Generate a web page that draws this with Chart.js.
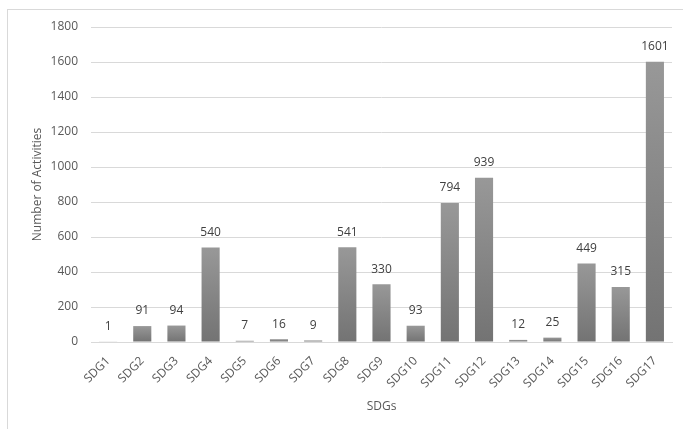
<!DOCTYPE html>
<html>
<head>
<meta charset="utf-8">
<script src="https://cdn.jsdelivr.net/npm/chart.js@4.4.1/dist/chart.umd.min.js"></script>
<style>
    html, body { margin: 0; padding: 0; background: #fff; }
    #wrap { position: relative; width: 683px; height: 429px; }
    #frame {
        position: absolute; left: 7px; top: 9px; right: -5px; bottom: -5px;
        border-left: 1px solid #d9d9d9; border-top: 1px solid #d9d9d9;
    }
    canvas { position: absolute; left: 0; top: 0; }
</style>
</head>
<body>
<div id="wrap">
    <div id="frame"></div>
    <canvas id="sdgChart" width="683" height="429"></canvas>
</div>
<script>
const categories = ['SDG1', 'SDG2', 'SDG3', 'SDG4', 'SDG5', 'SDG6', 'SDG7', 'SDG8', 'SDG9',
    'SDG10', 'SDG11', 'SDG12', 'SDG13', 'SDG14', 'SDG15', 'SDG16', 'SDG17'];
const activities = [1, 91, 94, 540, 7, 16, 9, 541, 330, 93, 794, 939, 12, 25, 449, 315, 1601];
const yTicks = [0, 200, 400, 600, 800, 1000, 1200, 1400, 1600, 1800];

const FONT = "'Open Sans', sans-serif";
const TEXT = '#595959';

// each bar gets its own light-to-dark fill, like the Excel gradient
function barFill(context) {
    const chart = context.chart;
    if (!chart.chartArea || context.parsed === undefined) return '#888888';
    const yScale = chart.scales.y;
    const top = yScale.getPixelForValue(context.parsed.y);
    const bottom = yScale.getPixelForValue(0);
    if (bottom - top < 1) return '#d8d8d8';
    const g = chart.ctx.createLinearGradient(0, top, 0, bottom);
    g.addColorStop(0, '#989898');
    g.addColorStop(1, '#737373');
    return g;
}

const valueLabels = {
    id: 'valueLabels',
    afterDatasetsDraw(chart) {
        const ctx = chart.ctx;
        const meta = chart.getDatasetMeta(0);
        ctx.save();
        ctx.font = '12px ' + FONT;
        ctx.fillStyle = '#404040';
        ctx.textAlign = 'center';
        ctx.textBaseline = 'middle';
        meta.data.forEach((bar, i) => {
            ctx.fillText(String(activities[i]), bar.x, bar.y - 15);
        });
        ctx.restore();
    }
};

new Chart(document.getElementById('sdgChart').getContext('2d'), {
    type: 'bar',
    data: {
        labels: categories,
        datasets: [{
            label: 'Number of Activities',
            data: activities,
            backgroundColor: barFill,
            borderWidth: 0,
            categoryPercentage: 1,
            barPercentage: 0.53
        }]
    },
    options: {
        responsive: false,
        animation: false,
        layout: { padding: { top: 27, right: 11, left: 0, bottom: 0 } },
        plugins: {
            legend: { display: false },
            tooltip: { enabled: false }
        },
        scales: {
            x: {
                grid: { display: false, drawTicks: false },
                border: { display: true, color: '#d9d9d9', width: 1 },
                ticks: {
                    color: TEXT,
                    font: { family: FONT, size: 12 },
                    maxRotation: 45,
                    minRotation: 45,
                    padding: 12,
                    autoSkip: false
                },
                title: {
                    display: true,
                    text: 'SDGs',
                    color: TEXT,
                    font: { family: FONT, size: 12 },
                    padding: { top: 0, bottom: 15 }
                },
                afterFit(scale) { scale.height = 87; }
            },
            y: {
                min: 0,
                max: 1800,
                afterBuildTicks(scale) {
                    scale.ticks = yTicks.map(v => ({ value: v }));
                },
                grid: { color: '#d9d9d9', lineWidth: 1, drawTicks: false },
                border: { display: false },
                ticks: {
                    color: TEXT,
                    font: { family: FONT, size: 12 },
                    padding: 13,
                    callback: value => String(value)
                },
                title: {
                    display: true,
                    text: 'Number of Activities',
                    color: TEXT,
                    font: { family: FONT, size: 12 },
                    padding: { top: 30, bottom: 0 }
                },
                afterFit(scale) { scale.width = 91; }
            }
        }
    },
    plugins: [valueLabels]
});
</script>
</body>
</html>
